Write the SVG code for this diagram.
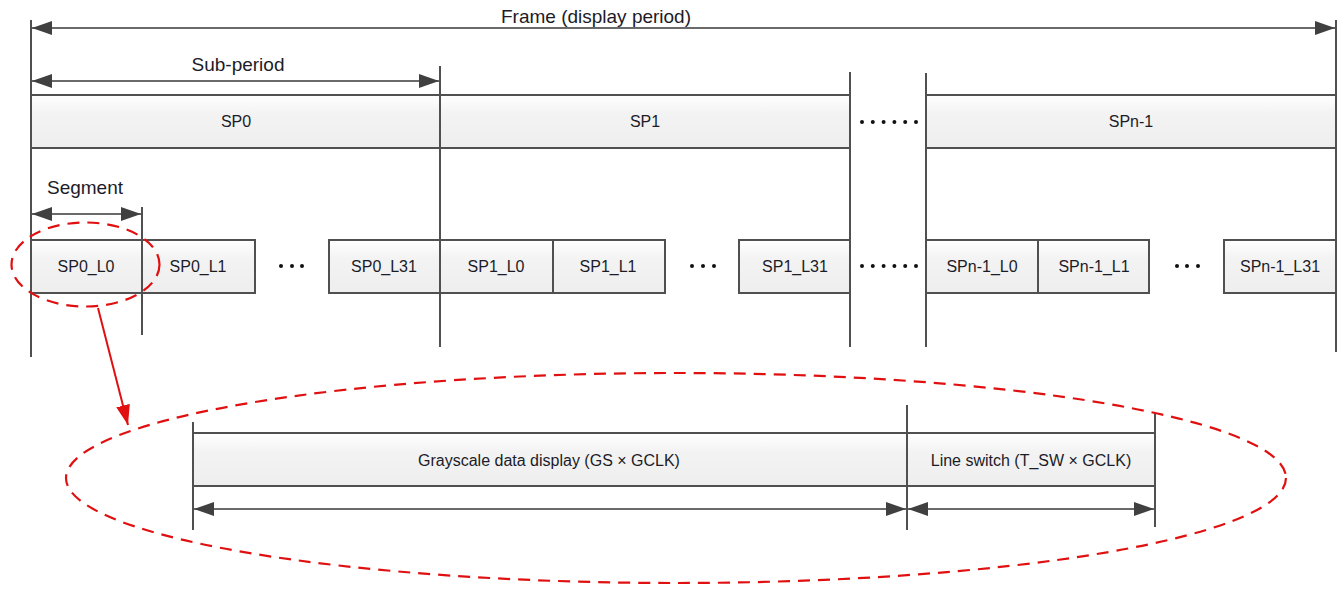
<svg xmlns="http://www.w3.org/2000/svg" width="1340" height="592" viewBox="0 0 1340 592">
<style>
.t{font-family:"Liberation Sans",Arial,sans-serif;fill:#1c1c28;text-anchor:middle}
.big{font-size:19px}
.lab{font-size:16px}
.box{fill:url(#g);stroke:#505050;stroke-width:2}
.v{stroke:#505050;stroke-width:2;fill:none}
.a{stroke:#6a6a6a;stroke-width:2;fill:none;marker-start:url(#ah);marker-end:url(#ah)}
.dot{fill:#111}
.red{stroke:#e01010;stroke-width:2.2;fill:none;stroke-dasharray:12 8}
</style>
<defs>
<linearGradient id="g" x1="0" y1="0" x2="0" y2="1">
<stop offset="0" stop-color="#ffffff"/>
<stop offset="0.35" stop-color="#f3f3f3"/>
<stop offset="1" stop-color="#eeeeee"/>
</linearGradient>
<marker id="ah" viewBox="0 0 20 14" refX="20" refY="7" markerWidth="20" markerHeight="14" markerUnits="userSpaceOnUse" orient="auto-start-reverse">
<path d="M0,0 L20,7 L0,14 z" fill="#404040"/>
</marker>
<marker id="rh" viewBox="0 0 20 14" refX="20" refY="7" markerWidth="20" markerHeight="14" markerUnits="userSpaceOnUse" orient="auto">
<path d="M0,0 L20,7 L0,14 z" fill="#e01010"/>
</marker>
</defs>

<g id="nodes">
<g id="frame-label"><text class="t big" x="596" y="23">Frame (display period)</text></g>
<g id="subperiod-label"><text class="t big" x="238" y="71">Sub-period</text></g>
<g id="segment-label"><text class="t big" x="85" y="194">Segment</text></g>

<g id="sp0"><rect class="box" x="31" y="95" width="409" height="53"/><text class="t lab" x="236" y="127">SP0</text></g>
<g id="sp1"><rect class="box" x="440" y="95" width="410" height="53"/><text class="t lab" x="645" y="127">SP1</text></g>
<g id="spn1"><rect class="box" x="926" y="95" width="410" height="53"/><text class="t lab" x="1131" y="127">SPn-1</text></g>

<g id="sp0_l0"><rect class="box" x="31" y="240" width="111" height="53"/><text class="t lab" x="86" y="272">SP0_L0</text></g>
<g id="sp0_l1"><rect class="box" x="142" y="240" width="113" height="53"/><text class="t lab" x="198" y="272">SP0_L1</text></g>
<g id="sp0_l31"><rect class="box" x="329" y="240" width="111" height="53"/><text class="t lab" x="384" y="272">SP0_L31</text></g>
<g id="sp1_l0"><rect class="box" x="440" y="240" width="113" height="53"/><text class="t lab" x="496" y="272">SP1_L0</text></g>
<g id="sp1_l1"><rect class="box" x="553" y="240" width="112" height="53"/><text class="t lab" x="608" y="272">SP1_L1</text></g>
<g id="sp1_l31"><rect class="box" x="739" y="240" width="111" height="53"/><text class="t lab" x="795" y="272">SP1_L31</text></g>
<g id="spn1_l0"><rect class="box" x="926" y="240" width="112" height="53"/><text class="t lab" x="982" y="272">SPn-1_L0</text></g>
<g id="spn1_l1"><rect class="box" x="1038" y="240" width="111" height="53"/><text class="t lab" x="1094" y="272">SPn-1_L1</text></g>
<g id="spn1_l31"><rect class="box" x="1224" y="240" width="112" height="53"/><text class="t lab" x="1280" y="272">SPn-1_L31</text></g>

<g id="grayscale"><rect class="box" x="193" y="433" width="714" height="53"/><text class="t lab" x="549" y="466">Grayscale data display (GS × GCLK)</text></g>
<g id="lineswitch"><rect class="box" x="907" y="433" width="248" height="53"/><text class="t lab" x="1031" y="466">Line switch (T_SW × GCLK)</text></g>

<g id="dots">
<circle class="dot" cx="862" cy="122" r="2"/><circle class="dot" cx="872.8" cy="122" r="2"/><circle class="dot" cx="883.6" cy="122" r="2"/><circle class="dot" cx="894.4" cy="122" r="2"/><circle class="dot" cx="905.2" cy="122" r="2"/><circle class="dot" cx="916" cy="122" r="2"/>
<circle class="dot" cx="862" cy="266" r="2"/><circle class="dot" cx="872.8" cy="266" r="2"/><circle class="dot" cx="883.6" cy="266" r="2"/><circle class="dot" cx="894.4" cy="266" r="2"/><circle class="dot" cx="905.2" cy="266" r="2"/><circle class="dot" cx="916" cy="266" r="2"/>
<circle class="dot" cx="281" cy="266" r="2"/><circle class="dot" cx="292" cy="266" r="2"/><circle class="dot" cx="302" cy="266" r="2"/>
<circle class="dot" cx="692" cy="266" r="2"/><circle class="dot" cx="703" cy="266" r="2"/><circle class="dot" cx="714" cy="266" r="2"/>
<circle class="dot" cx="1177" cy="266" r="2"/><circle class="dot" cx="1187" cy="266" r="2"/><circle class="dot" cx="1198" cy="266" r="2"/>
</g>
</g>

<g id="connectors">
<line class="v" x1="31" y1="20" x2="31" y2="357"/>
<line class="v" x1="1336" y1="20" x2="1336" y2="352"/>
<line class="v" x1="440" y1="66" x2="440" y2="347"/>
<line class="v" x1="850" y1="72" x2="850" y2="347"/>
<line class="v" x1="926" y1="73" x2="926" y2="347"/>
<line class="v" x1="142" y1="207" x2="142" y2="335"/>
<line class="v" x1="193" y1="422" x2="193" y2="530"/>
<line class="v" x1="907" y1="405" x2="907" y2="530"/>
<line class="v" x1="1155" y1="413" x2="1155" y2="527"/>

<line class="a" x1="32" y1="28" x2="1335" y2="28"/>
<line class="a" x1="32" y1="81" x2="439" y2="81"/>
<line class="a" x1="32" y1="214" x2="141" y2="214"/>
<line class="a" x1="194" y1="509" x2="906" y2="509"/>
<line class="a" x1="908" y1="509" x2="1154" y2="509"/>

<ellipse class="red" cx="85.5" cy="264.5" rx="74" ry="42"/>
<ellipse class="red" cx="676" cy="478" rx="610" ry="105" stroke-dasharray="17 10"/>
<line x1="98" y1="308" x2="128" y2="425" stroke="#e01010" stroke-width="2" marker-end="url(#rh)"/>
</g>
</svg>
